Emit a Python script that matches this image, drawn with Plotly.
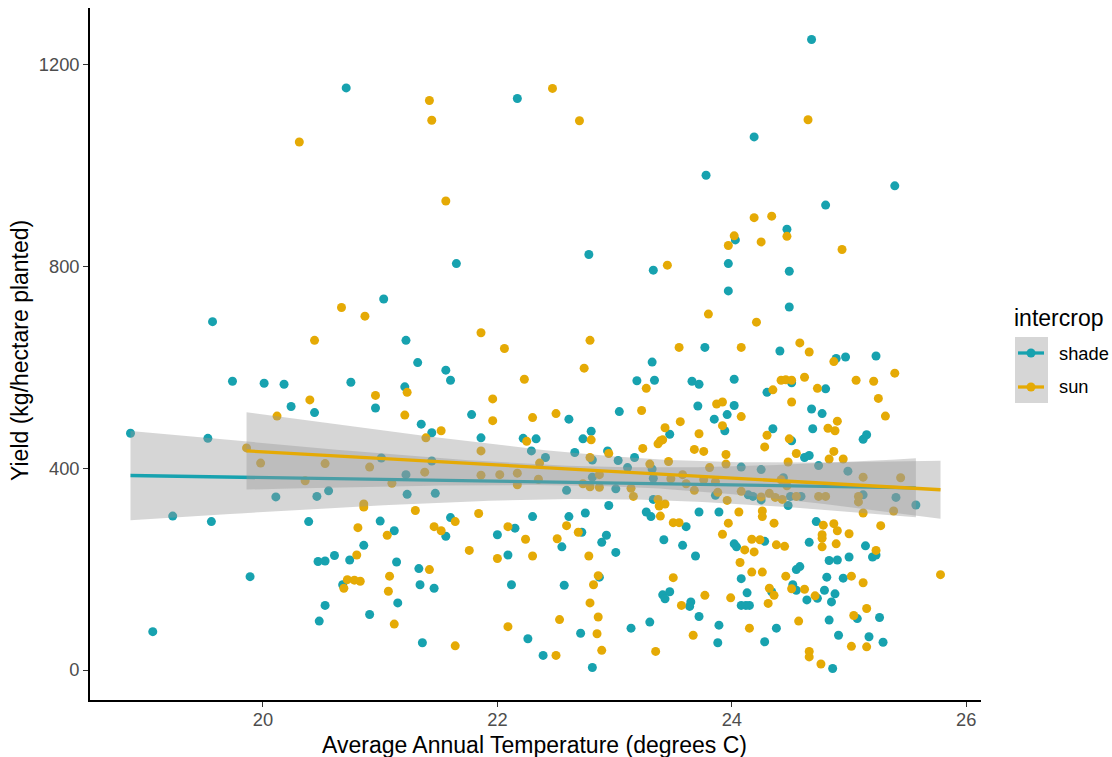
import numpy as np
import plotly.graph_objects as go

# ---------------- data ----------------
shade_temp = [20.71, 22.17, 21.65, 21.03, 19.57, 21.22,
              24.68, 24.19, 23.78, 25.39, 24.80, 24.47, 24.03, 22.78, 23.33, 23.97, 24.49, 23.97, 24.49,
              19.74, 20.01, 20.18, 20.75, 21.32, 21.56, 21.60, 21.21, 20.24, 20.96,
              20.44, 21.78, 21.35, 21.44, 21.86, 22.22, 18.87, 19.53, 22.29, 21.01,
              21.44, 21.22, 20.11, 20.46, 20.56, 21.23, 21.47, 19.23, 19.56, 20.39,
              21.00, 21.60, 21.56, 21.12, 22.15, 22.00, 20.86, 20.61, 20.47, 20.53,
              20.74, 21.14, 22.09, 21.33, 19.89, 20.68, 21.34, 21.46, 22.12, 20.53,
              21.15, 20.91, 20.48, 19.06, 22.26, 21.36,
              23.77, 24.41, 24.89, 24.97, 25.23, 23.32,
              23.19, 23.34, 23.66, 23.72, 24.02, 24.30, 24.51, 24.80, 23.71, 24.02,
              22.61, 23.04, 23.85, 23.96, 24.68, 24.77, 23.94, 24.35, 24.69, 22.80,
              22.73, 22.33, 23.47, 24.51, 25.12, 25.15,
              22.94, 22.66, 24.62, 24.66, 22.41, 22.81, 23.03, 23.17, 23.11, 23.32,
              24.08, 24.25, 24.74, 24.99,
              22.81, 23.01, 22.59, 23.33, 23.33, 23.86, 24.14, 24.18, 24.25, 24.44,
              24.50, 24.59, 24.48, 25.12, 25.40, 25.57,
              22.30, 22.61, 22.75, 22.95, 22.72, 22.55, 22.93, 22.89, 23.01, 23.27,
              23.31, 23.61, 23.42, 23.58, 23.69, 23.72, 23.89, 24.72, 24.28, 24.02,
              24.04, 24.66, 25.14,
              25.20, 25.23, 25.00, 24.83, 24.90, 24.55, 24.58, 24.81, 24.95, 24.08, 22.87, 22.57,
              24.34, 24.52, 24.55, 24.13, 24.08, 24.12, 24.15, 23.41, 23.47, 23.43,
              23.65, 23.64, 24.64, 24.73, 24.79, 24.88, 24.85,
              23.72, 23.89, 24.38, 24.83, 25.07, 25.26, 23.30, 23.14, 22.71, 23.88,
              24.28, 24.91, 25.17, 25.29, 24.86, 22.81, 22.39]
shade_yield = [1153, 1132, 805, 735, 690, 653,
               1249, 1056, 980, 959, 921, 873, 852, 823, 792, 805, 790, 751, 719,
               572, 568, 566, 570, 609, 594, 574, 561, 522, 519,
               510, 506, 487, 470, 460, 459, 469, 459, 434, 420,
               414, 387, 343, 344, 355, 348, 350, 305, 294, 294,
               295, 302, 265, 276, 281, 268, 247, 227, 215, 216,
               218, 214, 228, 201, 185, 169, 169, 162, 169, 128,
               133, 110, 97, 76, 62, 54,
               639, 632, 617, 620, 622, 610,
               573, 574, 572, 566, 576, 550, 569, 557, 523, 524,
               497, 512, 497, 506, 517, 508, 474, 478, 478, 473,
               458, 458, 467, 454, 457, 466,
               434, 431, 421, 425, 421, 416, 415, 421, 401, 398,
               402, 397, 405, 394,
               382, 359, 356, 380, 338, 346, 347, 344, 337, 381,
               344, 344, 326, 347, 342, 327,
               304, 304, 311, 326, 273, 244, 267, 253, 233, 313,
               304, 284, 258, 247, 226, 313, 313, 294, 255, 250,
               244, 253, 246,
               224, 228, 224, 217, 218, 199, 205, 184, 182, 181, 184, 168,
               155, 169, 158, 153, 128, 128, 128, 149, 155, 141,
               135, 126, 139, 142, 158, 151, 135,
               106, 89, 83, 99, 102, 104, 95, 83, 73, 54,
               56, 69, 66, 55, 3, 5, 29]

sun_temp = [21.42, 21.44, 20.31, 21.56, 20.67, 20.87, 21.86, 20.44, 22.06,
            22.47, 22.70, 24.65, 24.19, 24.34, 24.02, 23.97, 24.25, 24.47, 24.94,
            23.45, 23.80, 24.21, 22.79, 24.58,
            22.23, 21.23, 20.96, 20.40, 20.12, 21.21, 21.96, 21.96, 21.52, 21.39,
            22.25, 19.86, 21.86, 19.98, 20.53, 20.91, 21.38, 21.86, 22.02, 22.17,
            20.36, 21.10, 22.17, 20.86, 20.86, 21.30, 21.84, 21.64, 21.46, 21.52,
            20.81, 21.06, 22.09, 22.24, 21.76, 20.80, 22.00, 21.42, 20.72, 20.78,
            20.83, 20.69, 21.08, 21.07, 21.12, 22.09, 21.64,
            23.55, 24.08, 24.66, 24.87, 25.39, 22.74,
            23.27, 24.35, 24.42, 24.46, 24.51, 24.62, 24.73, 25.06, 25.21, 25.25,
            24.51, 23.87, 23.92,
            22.50, 22.30, 23.23, 24.08, 23.56, 25.31, 24.90, 23.92, 23.43, 24.82,
            24.88, 22.80, 23.72, 24.30, 24.49,
            23.41, 23.39, 23.37, 23.24, 22.95, 23.68, 23.76, 24.28, 24.55, 23.95,
            24.87, 24.83, 24.95, 22.79, 23.46, 23.30, 22.36, 23.81, 23.95, 24.48,
            22.35, 22.87, 22.73, 22.79, 22.87, 23.48, 23.58, 23.61, 23.68, 23.76,
            23.86, 23.14, 23.16, 23.37, 23.88, 23.96, 24.08, 24.25, 24.32, 24.37,
            24.42, 24.47, 24.43, 24.55, 24.74, 24.80, 25.12, 25.44, 25.08, 25.08,
            25.38, 25.12,
            22.59, 22.69, 22.51, 22.78, 22.30, 23.38, 23.43, 23.39, 23.50, 23.55,
            24.06, 23.97, 23.92, 24.26, 24.26, 24.36, 24.78, 24.87, 24.90, 24.77,
            24.77, 25.00, 25.27, 24.17, 24.24, 24.11, 24.19, 24.38, 24.45, 24.77,
            24.89,
            25.23, 24.07, 24.17, 24.26, 24.46, 25.02, 25.12, 22.86, 22.82, 23.50,
            24.32, 24.36, 24.51, 24.62, 24.31, 23.99, 23.77, 23.57, 24.71, 22.79,
            24.15, 24.57, 25.04, 25.15, 22.53, 22.86, 22.85, 23.67, 25.02, 25.15,
            22.89, 23.35, 24.66, 24.66, 24.76, 22.50, 25.78]
sun_yield = [1128, 1089, 1046, 929, 718, 701, 668, 653, 637,
             1152, 1088, 1090, 896, 899, 860, 841, 848, 859, 833,
             802, 705, 689, 653, 648,
             576, 550, 544, 535, 503, 505, 537, 494, 474, 460,
             453, 440, 434, 410, 409, 402, 392, 386, 387, 390,
             375, 370, 367, 329, 323, 316, 310, 294, 284, 276,
             282, 267, 284, 259, 237, 228, 221, 199, 179, 178,
             176, 162, 186, 156, 91, 86, 48,
             639, 639, 630, 611, 588, 598,
             558, 555, 574, 575, 574, 580, 558, 574, 572, 538,
             531, 527, 531,
             508, 500, 514, 502, 492, 503, 493, 484, 480, 479,
             474, 456, 468, 465, 458,
             456, 454, 448, 439, 429, 437, 433, 442, 429, 427,
             433, 418, 418, 421, 413, 408, 410, 401, 408, 412,
             378, 387, 369, 363, 362, 379, 387, 369, 356, 377,
             373, 360, 344, 338, 352, 336, 354, 343, 350, 342,
             377, 365, 338, 344, 344, 344, 382, 381, 344, 333,
             315, 311,
             286, 273, 260, 226, 226, 325, 329, 305, 292, 292,
             313, 291, 269, 315, 304, 291, 287, 290, 276, 268,
             261, 270, 286, 259, 258, 238, 234, 248, 245, 244,
             250,
             237, 213, 194, 194, 186, 186, 173, 187, 169, 183,
             162, 148, 161, 160, 132, 143, 148, 128, 147, 133,
             83, 97, 108, 122, 100, 105, 72, 69, 47, 46,
             39, 37, 37, 26, 12, 29, 189]

groups = ["shade", "sun"]
x_ticks = [20, 22, 24, 26]
y_ticks = [0, 400, 800, 1200]

COLORS = {"shade": "#17A2AF", "sun": "#E5AA05"}
RIBBON = "rgba(153,153,153,0.4)"
FONT = "Liberation Sans, Arial, sans-serif"
TITLE_SIZE = 23
TEXT_SIZE = 18.3

data = {"shade": (np.array(shade_temp), np.array(shade_yield, dtype=float)),
        "sun": (np.array(sun_temp), np.array(sun_yield, dtype=float))}


def t975(df):
    z = 1.959964
    return z + (z**3 + z) / (4 * df) + (5 * z**5 + 16 * z**3 + 3 * z) / (96 * df**2)


def lm_fit(x, y, n=80):
    xm, ym = x.mean(), y.mean()
    sxx = ((x - xm) ** 2).sum()
    b1 = ((x - xm) * (y - ym)).sum() / sxx
    b0 = ym - b1 * xm
    res = y - (b0 + b1 * x)
    s2 = (res ** 2).sum() / (len(x) - 2)
    xs = np.linspace(x.min(), x.max(), n)
    fit = b0 + b1 * xs
    se = np.sqrt(s2 * (1.0 / len(x) + (xs - xm) ** 2 / sxx))
    t = t975(len(x) - 2)
    return xs, fit, fit - t * se, fit + t * se


fig = go.Figure()

# points
for g in groups:
    x, y = data[g]
    fig.add_trace(go.Scatter(x=x, y=y, mode="markers", name=g, showlegend=False,
                             marker=dict(size=9, color=COLORS[g], line=dict(width=0))))

# smooth (ribbon + line per group)
for g in groups:
    x, y = data[g]
    xs, fit, lo, hi = lm_fit(x, y)
    fig.add_trace(go.Scatter(x=np.concatenate([xs, xs[::-1]]),
                             y=np.concatenate([hi, lo[::-1]]),
                             fill="toself", fillcolor=RIBBON, mode="lines",
                             line=dict(width=0, color="rgba(0,0,0,0)"),
                             hoverinfo="skip", showlegend=False))
    fig.add_trace(go.Scatter(x=xs, y=fit, mode="lines", showlegend=False,
                             line=dict(color=COLORS[g], width=3.3)))

all_x = np.concatenate([data[g][0] for g in groups])
all_y = np.concatenate([data[g][1] for g in groups])
xspan = all_x.max() - all_x.min()
yspan = all_y.max() - all_y.min()
xr = [all_x.min() - 0.05 * xspan, all_x.max() + 0.05 * xspan]
yr = [all_y.min() - 0.05 * yspan, all_y.max() + 0.05 * yspan]

# plot area in pixels
PX0, PX1, PY0, PY1 = 90, 981, 8, 700
W, H = 1112, 757


def px(xp):
    return (xp - PX0) / (PX1 - PX0)


def py(yp):
    return (PY1 - yp) / (PY1 - PY0)


axis_common = dict(showgrid=False, zeroline=False, showline=True, linecolor="black",
                   linewidth=1.6, ticks="outside", ticklen=5, tickwidth=1.3,
                   tickcolor="#333333",
                   tickfont=dict(family=FONT, size=TEXT_SIZE, color="#4D4D4D"))

fig.update_layout(
    width=W, height=H,
    margin=dict(l=PX0, r=W - PX1, t=PY0, b=H - PY1),
    paper_bgcolor="white", plot_bgcolor="white",
    showlegend=False,
    xaxis=dict(range=xr, tickvals=x_ticks, ticktext=[str(v) for v in x_ticks],
               ticklabelstandoff=-3, **axis_common),
    yaxis=dict(range=yr, tickvals=y_ticks, ticktext=[str(v) for v in y_ticks], **axis_common),
)

annotations = [
    dict(text="Average Annual Temperature (degrees C)", x=px(534), y=py(745),
         xref="paper", yref="paper", xanchor="center", yanchor="middle", showarrow=False,
         font=dict(family=FONT, size=TITLE_SIZE, color="black")),
    dict(text="Yield (kg/hectare planted)", x=px(20), y=py(351), textangle=-90,
         xref="paper", yref="paper", xanchor="center", yanchor="middle", showarrow=False,
         font=dict(family=FONT, size=TITLE_SIZE, color="black")),
    dict(text="intercrop", x=px(1012), y=py(318), xref="paper", yref="paper",
         xanchor="left", yanchor="middle", showarrow=False,
         font=dict(family=FONT, size=TITLE_SIZE, color="black")),
]

shapes = [dict(type="rect", xref="paper", yref="paper", x0=px(1015), x1=px(1048),
               y0=py(403), y1=py(337), fillcolor="#D6D6D6", line=dict(width=0), layer="above")]
key_y = {"shade": 353, "sun": 387}
for g in groups:
    shapes.append(dict(type="line", xref="paper", yref="paper", x0=px(1018), x1=px(1044),
                       y0=py(key_y[g]), y1=py(key_y[g]),
                       line=dict(color=COLORS[g], width=3.3), layer="above"))
    shapes.append(dict(type="circle", xref="paper", yref="paper",
                       xsizemode="pixel", ysizemode="pixel",
                       xanchor=px(1031), yanchor=py(key_y[g]),
                       x0=-4.5, x1=4.5, y0=-4.5, y1=4.5,
                       fillcolor=COLORS[g], line=dict(width=0), layer="above"))
    annotations.append(dict(text=g, x=px(1057), y=py(key_y[g]), xref="paper", yref="paper",
                            xanchor="left", yanchor="middle", showarrow=False,
                            font=dict(family=FONT, size=TEXT_SIZE, color="black")))

fig.update_layout(annotations=annotations, shapes=shapes)

fig.write_html("out.html",
               config={"displayModeBar": False},
               post_script="document.body.style.margin='0px';"
                           "document.body.style.overflow='hidden';")
